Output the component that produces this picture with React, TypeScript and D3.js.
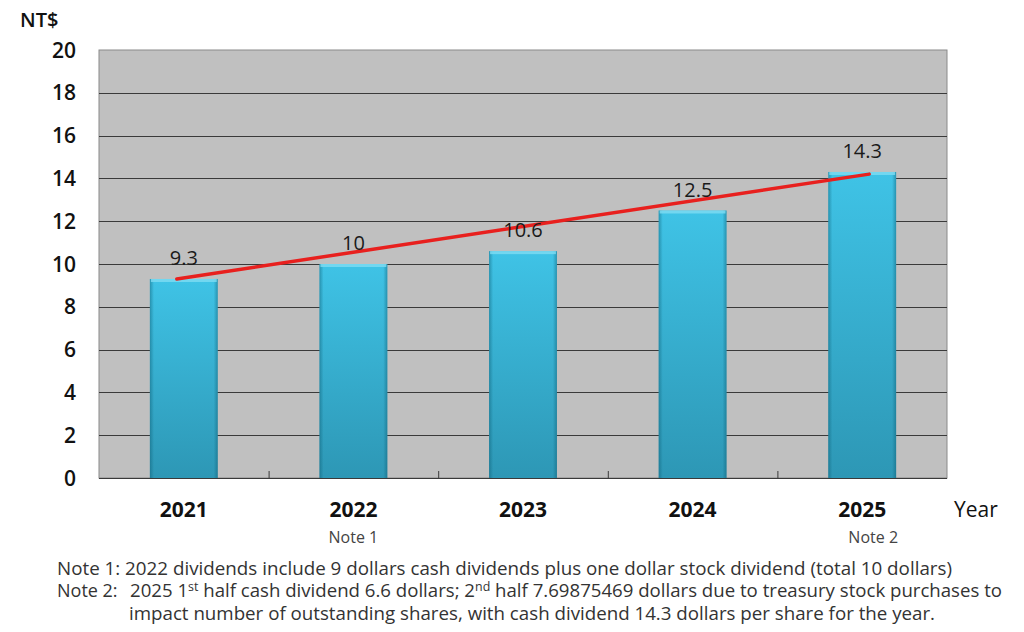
import * as d3 from "d3";
import { useEffect, useRef } from "react";

const YEARS = ["2021", "2022", "2023", "2024", "2025"];
const DIVIDENDS = [9.3, 10, 10.6, 12.5, 14.3];
const VALUE_LABELS = ["9.3", "10", "10.6", "12.5", "14.3"];
const YEAR_NOTES = ["", "Note 1", "", "", "Note 2"];
const TREND = [9.3, 14.2];
const Y_TICKS = [0, 2, 4, 6, 8, 10, 12, 14, 16, 18, 20];

const WIDTH = 1024;
const HEIGHT = 632;
const FONT = "'Open Sans', 'Noto Sans', sans-serif";

export default function App() {
	const svgRef = useRef<SVGSVGElement>(null);

	useEffect(() => {
		document.body.style.margin = "0";
		if (!svgRef.current) return;

		const margin = { top: 50, right: 77, bottom: 154, left: 99 };
		const innerW = WIDTH - margin.left - margin.right;
		const innerH = HEIGHT - margin.top - margin.bottom;

		const svg = d3.select(svgRef.current);
		svg.selectAll("*").remove();
		svg.attr("width", WIDTH).attr("height", HEIGHT);

		const defs = svg.append("defs");
		const grad = defs
			.append("linearGradient")
			.attr("id", "bar-grad")
			.attr("x1", "0%")
			.attr("y1", "0%")
			.attr("x2", "0%")
			.attr("y2", "100%");
		grad.append("stop").attr("offset", "0%").attr("stop-color", "#3fc3e6");
		grad.append("stop").attr("offset", "100%").attr("stop-color", "#2d97b5");

		const edge = defs
			.append("linearGradient")
			.attr("id", "bar-edge")
			.attr("x1", "0%")
			.attr("y1", "0%")
			.attr("x2", "100%")
			.attr("y2", "0%");
		edge.append("stop").attr("offset", "0%").attr("stop-color", "#0b5a70").attr("stop-opacity", 0.45);
		edge.append("stop").attr("offset", "6%").attr("stop-color", "#0b5a70").attr("stop-opacity", 0);
		edge.append("stop").attr("offset", "94%").attr("stop-color", "#0b5a70").attr("stop-opacity", 0);
		edge.append("stop").attr("offset", "100%").attr("stop-color", "#0b5a70").attr("stop-opacity", 0.45);

		const g = svg.append("g").attr("transform", `translate(${margin.left},${margin.top})`);

		const x = d3.scaleBand().domain(YEARS).range([0, innerW]).padding(0);
		const y = d3.scaleLinear().domain([0, 20]).range([innerH, 0]);
		const barW = x.bandwidth() * 0.4;
		const cx = (d: string) => x(d)! + x.bandwidth() / 2;

		// Plot background
		g.append("rect")
			.attr("width", innerW)
			.attr("height", innerH)
			.attr("fill", "#c0c0c0")
			.attr("stroke", "#8a8a8a")
			.attr("stroke-width", 1);

		// Grid lines
		g.selectAll(".grid-line")
			.data(Y_TICKS.filter((t) => t > 0 && t < 20))
			.enter()
			.append("line")
			.attr("x1", 0)
			.attr("x2", innerW)
			.attr("y1", (d) => Math.round(y(d)) + 0.5)
			.attr("y2", (d) => Math.round(y(d)) + 0.5)
			.attr("stroke", "#3a3a3a")
			.attr("stroke-width", 1);

		// Bars
		const bars = g.selectAll(".bar").data(DIVIDENDS).enter().append("g");
		bars.append("rect")
			.attr("x", (_, i) => cx(YEARS[i]) - barW / 2)
			.attr("y", (d) => y(d))
			.attr("width", barW)
			.attr("height", (d) => innerH - y(d))
			.attr("fill", "url(#bar-grad)");
		bars.append("rect")
			.attr("x", (_, i) => cx(YEARS[i]) - barW / 2)
			.attr("y", (d) => y(d))
			.attr("width", barW)
			.attr("height", (d) => innerH - y(d))
			.attr("fill", "url(#bar-edge)");
		bars.append("rect")
			.attr("x", (_, i) => cx(YEARS[i]) - barW / 2 + 1)
			.attr("y", (d) => y(d))
			.attr("width", barW - 2)
			.attr("height", 3)
			.attr("fill", "#7fdcf2")
			.attr("opacity", 0.8);

		// Bottom axis with inner ticks at category boundaries
		g.append("line")
			.attr("x1", 0)
			.attr("x2", innerW)
			.attr("y1", innerH + 0.5)
			.attr("y2", innerH + 0.5)
			.attr("stroke", "#3a3a3a")
			.attr("stroke-width", 1.2);
		g.selectAll(".x-tick")
			.data(YEARS.slice(1))
			.enter()
			.append("line")
			.attr("x1", (d) => x(d)! + 0.5)
			.attr("x2", (d) => x(d)! + 0.5)
			.attr("y1", innerH)
			.attr("y2", innerH - 7)
			.attr("stroke", "#3a3a3a");

		// Trend line, from first to last category (drawn a touch past the centres)
		const trendPad = 7;
		const line = d3
			.line<number>()
			.x((_, i) =>
				i === 0 ? cx(YEARS[0]) - trendPad : cx(YEARS[YEARS.length - 1]) + trendPad,
			)
			.y((d) => y(d));
		g.append("path")
			.datum(TREND)
			.attr("d", line)
			.attr("fill", "none")
			.attr("stroke", "#e8201e")
			.attr("stroke-width", 3.5)
			.attr("stroke-linecap", "round");

		// Value labels
		g.selectAll(".value-label")
			.data(DIVIDENDS)
			.enter()
			.append("text")
			.attr("x", (_, i) => cx(YEARS[i]))
			.attr("y", (d) => y(d) - 14)
			.attr("text-anchor", "middle")
			.attr("font-family", FONT)
			.attr("font-size", "20px")
			.attr("fill", "#1a1a1a")
			.text((_, i) => VALUE_LABELS[i]);

		// Y tick labels
		g.selectAll(".y-label")
			.data(Y_TICKS)
			.enter()
			.append("text")
			.attr("x", -23)
			.attr("y", (d) => y(d))
			.attr("dy", "0.36em")
			.attr("text-anchor", "end")
			.attr("font-family", FONT)
			.attr("font-size", "21px")
			.attr("font-weight", "600")
			.attr("fill", "#111")
			.text((d) => d);

		// X labels
		g.selectAll(".x-label")
			.data(YEARS)
			.enter()
			.append("text")
			.attr("x", (d) => cx(d))
			.attr("y", innerH + 39)
			.attr("text-anchor", "middle")
			.attr("font-family", FONT)
			.attr("font-size", "21px")
			.attr("font-weight", "700")
			.attr("fill", "#111")
			.text((d) => d);

		g.selectAll(".x-note")
			.data(YEARS)
			.enter()
			.append("text")
			.attr("x", (d) => cx(d) + (d === "2025" ? 11 : 0))
			.attr("y", innerH + 65)
			.attr("text-anchor", "middle")
			.attr("font-family", FONT)
			.attr("font-size", "16px")
			.attr("fill", "#444")
			.text((_, i) => YEAR_NOTES[i]);

		// Axis titles
		svg.append("text")
			.attr("x", 20)
			.attr("y", 27)
			.attr("font-family", FONT)
			.attr("font-size", "20px")
			.attr("font-weight", "600")
			.attr("fill", "#111")
			.text("NT$");
		svg.append("text")
			.attr("x", 954)
			.attr("y", 517)
			.attr("font-family", FONT)
			.attr("font-size", "21px")
			.attr("fill", "#111")
			.text("Year");

		// Footnotes
		const notes = svg
			.append("g")
			.attr("font-family", FONT)
			.attr("font-size", "18px")
			.attr("fill", "#333");
		notes.append("text")
			.attr("x", 57)
			.attr("y", 575)
			.attr("textLength", 895)
			.attr("lengthAdjust", "spacingAndGlyphs")
			.text(
				"Note 1: 2022 dividends include 9 dollars cash dividends plus one dollar stock dividend (total 10 dollars)",
			);
		notes.append("text").attr("x", 57).attr("y", 597).text("Note 2:");
		const n2 = notes
			.append("text")
			.attr("x", 130)
			.attr("y", 597)
			.attr("textLength", 872)
			.attr("lengthAdjust", "spacingAndGlyphs");
		n2.append("tspan").text("2025 1");
		n2.append("tspan").attr("font-size", "12px").attr("dy", -6).text("st");
		n2.append("tspan").attr("dy", 6).text(" half cash dividend 6.6 dollars; 2");
		n2.append("tspan").attr("font-size", "12px").attr("dy", -6).text("nd");
		n2.append("tspan")
			.attr("dy", 6)
			.text(" half 7.69875469 dollars due to treasury stock purchases to");
		notes.append("text")
			.attr("x", 129)
			.attr("y", 620)
			.attr("textLength", 806)
			.attr("lengthAdjust", "spacingAndGlyphs")
			.text("impact number of outstanding shares, with cash dividend  14.3 dollars per share for the year.");
	}, []);

	return <svg ref={svgRef} style={{ display: "block" }} />;
}
